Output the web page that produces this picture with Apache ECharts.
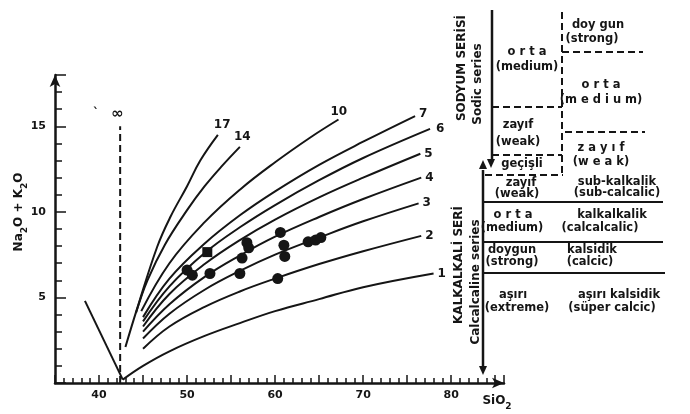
<!DOCTYPE html>
<html>
<head>
<meta charset="utf-8">
<script src="https://cdn.jsdelivr.net/npm/echarts@6/dist/echarts.min.js"></script>
<style>
html,body{margin:0;padding:0;background:#fff;}
#c{width:690px;height:414px;}
</style>
</head>
<body>
<div id="c"></div>
<script>
// ---- data ----
var xTickLabels = [40, 50, 60, 70, 80];
var yTickLabels = [5, 10, 15];
var curveNames = ['1', '2', '3', '4', '5', '6', '7', '10', '14', '17'];
var curve1  = [[42.7,0.2],[45,1.0],[48,1.85],[52,2.75],[56,3.5],[60,4.2],[65,4.9],[70,5.6],[78,6.4]];
var curve2  = [[45,2.0],[48,3.3],[52,4.45],[56,5.35],[60,6.1],[65,6.95],[70,7.7],[76.6,8.6]];
var curve3  = [[45,2.6],[48,4.05],[52,5.45],[56,6.55],[60,7.5],[65,8.5],[70,9.45],[76.3,10.5]];
var curve4  = [[45,3.0],[48,4.6],[52,6.2],[56,7.45],[60,8.55],[65,9.7],[70,10.75],[76.6,12.0]];
var curve5  = [[45,3.3],[48,5.2],[52,6.95],[56,8.35],[60,9.55],[65,10.85],[70,12.0],[76.5,13.4]];
var curve6  = [[45,3.6],[48,5.65],[52,7.6],[56,9.1],[60,10.4],[65,11.85],[70,13.15],[77.6,14.85]];
var curve7  = [[45,3.85],[48,6.1],[52,8.15],[56,9.8],[60,11.2],[65,12.75],[70,14.1],[75.9,15.6]];
var curve10 = [[44.8,4.2],[48,7.0],[52,9.4],[56,11.3],[60,12.9],[64,14.35],[67.2,15.4]];
var curve14 = [[44.2,4.1],[45.5,6.0],[47.5,8.1],[50,10.1],[52,11.5],[54,12.7],[56,13.8]];
var curve17 = [[43,2.1],[44.3,4.3],[46.6,7.95],[48.1,9.7],[50,11.5],[51.5,13.0],[53.5,14.5]];
var infinityLine = [[42.4,0],[42.4,15]];
var leftBranch = [[38.4,4.8],[42.7,0.2]];
var samplesCircle = [[50.0,6.6],[50.6,6.3],[52.6,6.4],[56.8,8.2],[57.0,7.9],[56.25,7.3],[56.0,6.4],
                     [60.6,8.8],[61.0,8.05],[61.1,7.4],[60.3,6.1],[63.75,8.25],[64.6,8.35],[65.2,8.5]];
var samplesSquare = [[52.3,7.65]];

var curves = [curve1, curve2, curve3, curve4, curve5, curve6, curve7, curve10, curve14, curve17];

// ---- chart ----
var INK = '#151515';
var FONT = 'DejaVu Sans';
var chart = echarts.init(document.getElementById('c'));

var labelOffsets = {
  '1':[2,0], '2':[2,0], '3':[2,0], '4':[2,0], '5':[2,0], '6':[4,0], '7':[2,-2],
  '10':[-10,-8], '14':[-8,-10], '17':[-6,-10]
};

var series = [];
curves.forEach(function (c, i) {
  var nm = curveNames[i];
  series.push({
    type: 'line', name: nm, data: c, smooth: 0.4, showSymbol: false, silent: true,
    lineStyle: { color: INK, width: 2 },
    endLabel: { show: true, formatter: nm, color: INK, fontFamily: FONT, fontWeight: 'bold',
                fontSize: 12, offset: labelOffsets[nm], distance: 2 },
    z: 2
  });
});
series.push({
  type: 'line', data: infinityLine, showSymbol: false, silent: true,
  lineStyle: { color: INK, width: 2, type: [7, 4] },
  endLabel: { show: true, formatter: '\u221E', color: INK, fontWeight: 'bold', fontSize: 15,
              fontFamily: FONT, offset: [-17, -12] }
});
series.push({
  type: 'line', data: leftBranch, showSymbol: false, silent: true,
  lineStyle: { color: INK, width: 2 }
});
series.push({
  type: 'scatter', data: samplesCircle, symbol: 'circle', symbolSize: 11,
  itemStyle: { color: INK, opacity: 1 }, z: 5
});
series.push({
  type: 'scatter', data: samplesSquare, symbol: 'rect', symbolSize: 10,
  itemStyle: { color: INK, opacity: 1 }, z: 5
});

function ln(x1, y1, x2, y2, dashed, w) {
  return { type: 'line', shape: { x1: x1, y1: y1, x2: x2, y2: y2 },
           style: { stroke: INK, lineWidth: w || 2, lineDash: dashed ? [7, 4] : null } };
}
function tx(x, y, t, size, rot) {
  return { type: 'text', x: x, y: y, rotation: rot || 0,
           style: { text: t, fill: INK, font: 'bold ' + (size || 11.5) + 'px "' + FONT + '"',
                    align: 'center', verticalAlign: 'middle' } };
}
function arrow(x, y, dir) { // dir 1 = down, -1 = up; (x,y) = tip
  return { type: 'polygon', shape: { points: [[x, y], [x - 4, y - 9 * dir], [x + 4, y - 9 * dir]] },
           style: { fill: INK } };
}

var graphics = [
  // panel axes
  ln(492, 10, 492, 160, false, 2.5), arrow(491, 168, 1),
  ln(483, 170, 483, 366, false, 2.5), arrow(483, 160, -1), arrow(483, 375, 1),
  // solid separators
  ln(484, 202, 663, 202), ln(484, 242, 663, 242), ln(484, 273, 665, 273),
  // dashed separators
  ln(562, 12, 562, 177, true), ln(562, 52, 643, 52, true), ln(492, 107, 562, 107, true),
  ln(565, 132, 645, 132, true), ln(492, 155, 562, 155, true), ln(485, 175, 563, 175, true),
  // texts
  tx(598, 25, 'doy gun'), tx(592, 39, '(strong)'),
  tx(527, 52, 'o r t a'), tx(527, 67, '(medium)'),
  tx(601, 85, 'o r t a'), tx(601, 100, '(m e d i u m)'),
  tx(518, 125, 'zayıf'), tx(518, 142, '(weak)'),
  tx(601, 148, 'z a y ı f'), tx(601, 162, '(w e a k)'),
  tx(522, 164, 'geçişli'),
  tx(521, 183, 'zayıf'), tx(517, 194, '(weak)'),
  tx(617, 182, 'sub-kalkalik'), tx(617, 193, '(sub-calcalic)'),
  tx(513, 215, 'o r t a'), tx(612, 215, 'kalkalkalik'),
  tx(512, 228, '(medium)'), tx(600, 228, '(calcalcalic)'),
  tx(512, 250, 'doygun'), tx(592, 250, 'kalsidik'),
  tx(512, 262, '(strong)'), tx(590, 262, '(calcic)'),
  tx(513, 295, 'aşırı'), tx(619, 295, 'aşırı kalsidik'),
  tx(517, 308, '(extreme)'), tx(612, 308, '(süper calcic)'),
  tx(462, 68, 'SODYUM SERİSİ', 12, Math.PI / 2),
  tx(478, 84, 'Sodic series', 12, Math.PI / 2),
  tx(459, 265, 'KALKALKALİ SERİ', 12, Math.PI / 2),
  tx(476, 282, 'Calcalcaline series', 12, Math.PI / 2),
  tx(96, 103, '\u02CE', 12, 0),
  {
    type: 'text', x: 19, y: 212, rotation: Math.PI / 2,
    style: {
      text: '{a|Na}{b|2}{a|O + K}{b|2}{a|O}', align: 'center', verticalAlign: 'middle',
      rich: {
        a: { fontSize: 12, fontWeight: 'bold', fontFamily: FONT, fill: INK, color: INK, verticalAlign: 'middle' },
        b: { fontSize: 9, fontWeight: 'bold', fontFamily: FONT, fill: INK, color: INK, verticalAlign: 'bottom', lineHeight: 20 }
      }
    }
  },
  {
    type: 'text', x: 497, y: 401,
    style: {
      text: '{a|SiO}{b|2}', align: 'center', verticalAlign: 'middle',
      rich: {
        a: { fontSize: 12, fontWeight: 'bold', fontFamily: FONT, fill: INK, color: INK, verticalAlign: 'middle' },
        b: { fontSize: 9, fontWeight: 'bold', fontFamily: FONT, fill: INK, color: INK, verticalAlign: 'bottom', lineHeight: 20 }
      }
    }
  }
];

chart.setOption({
  animation: false,
  backgroundColor: '#fff',
  grid: { left: 55, right: 186, top: 75, bottom: 31, containLabel: false },
  xAxis: {
    type: 'value', min: 35, max: 86, interval: 5, splitLine: { show: false },
    axisLine: { lineStyle: { color: INK, width: 2.5 }, symbol: ['none', 'arrow'], symbolSize: [8, 12] },
    axisTick: { inside: true, length: 8, lineStyle: { color: INK, width: 1.5 } },
    minorTick: { show: true, splitNumber: 5, length: 5, lineStyle: { color: INK, width: 1.5 } },
    axisLabel: { color: INK, fontFamily: FONT, fontWeight: 'bold', fontSize: 11, margin: 7,
                 formatter: function (v) { return xTickLabels.indexOf(v) >= 0 ? String(v) : ''; } }
  },
  yAxis: {
    type: 'value', min: 0, max: 18, interval: 5, splitLine: { show: false },
    axisLine: { lineStyle: { color: INK, width: 2.5 }, symbol: ['none', 'arrow'], symbolSize: [8, 12] },
    axisTick: { inside: true, length: 11, lineStyle: { color: INK, width: 1.5 } },
    minorTick: { show: true, splitNumber: 5, length: 7, lineStyle: { color: INK, width: 1.5 } },
    axisLabel: { color: INK, fontFamily: FONT, fontWeight: 'bold', fontSize: 11, margin: 9,
                 formatter: function (v) { return yTickLabels.indexOf(v) >= 0 ? String(v) : ''; } }
  },
  series: series,
  graphic: graphics
});
</script>
</body>
</html>
